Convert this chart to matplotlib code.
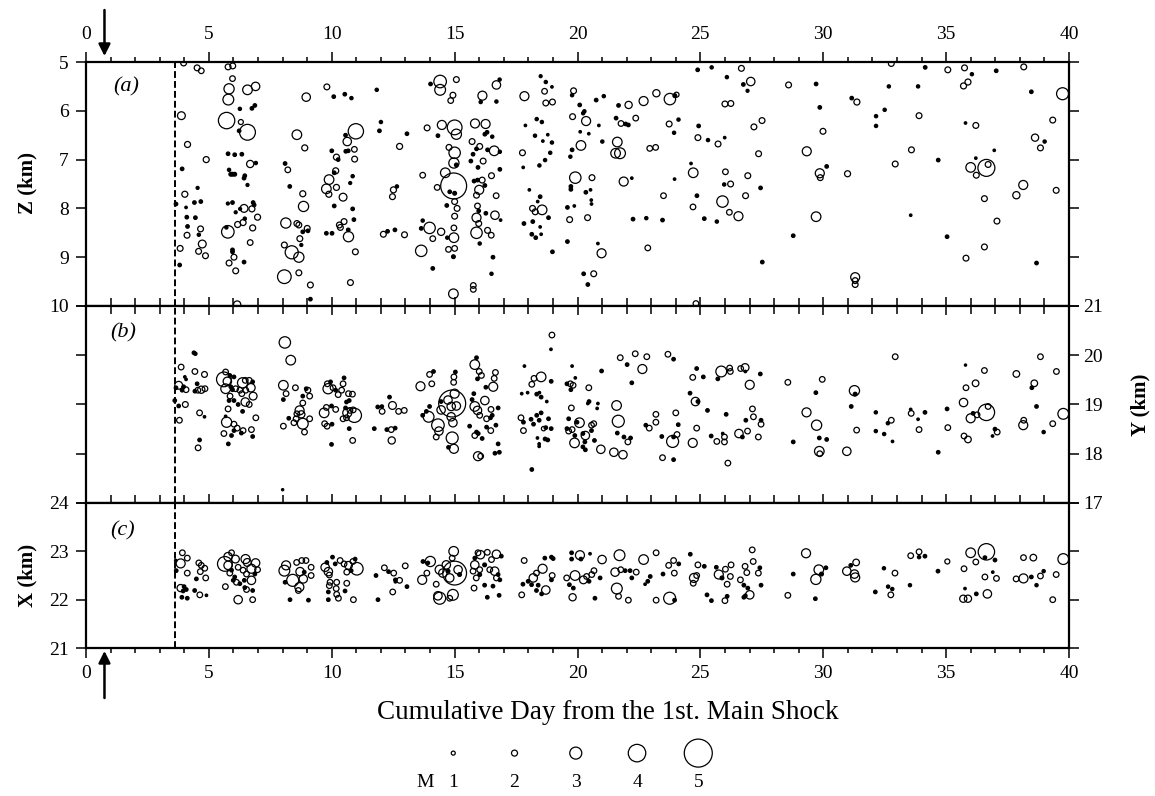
import numpy as np
import matplotlib.pyplot as plt

plt.rcParams['font.family'] = ['Liberation Serif', 'DejaVu Serif']

# 震源データ (日, 座標 km, M) -- パネルごと
# (a) 深さ Z
quakes_z = [
    (3.97, 5.02, 1.9), (4.52, 5.12, 1.9), (4.69, 5.18, 1.8), (5.78, 5.10, 1.9), (5.97, 5.08, 1.9),
    (5.96, 5.34, 1.8), (5.82, 5.55, 2.7), (6.57, 5.57, 2.6), (6.90, 5.50, 2.4), (5.79, 5.77, 2.8),
    (8.96, 5.72, 2.4), (9.80, 5.51, 1.9), (10.08, 5.71, 0.8), (10.53, 5.66, 0.8), (10.80, 5.74, 0.7),
    (11.83, 5.57, 0.7), (3.88, 6.10, 2.3), (5.72, 6.20, 3.8), (6.57, 6.44, 3.7), (6.26, 5.96, 0.7),
    (6.75, 5.95, 0.8), (6.87, 5.89, 0.8), (6.30, 6.23, 1.5), (6.23, 6.41, 0.8), (8.58, 6.49, 2.6),
    (8.90, 6.76, 2.0), (10.98, 6.42, 3.6), (10.56, 6.50, 0.8), (10.63, 6.63, 2.4), (11.94, 6.41, 0.8),
    (12.00, 6.23, 0.7), (13.06, 6.47, 0.8), (12.76, 6.73, 2.0), (4.13, 6.69, 2.0), (4.89, 7.00, 2.0),
    (3.91, 7.19, 0.8), (5.78, 6.88, 0.8), (6.05, 6.90, 0.8), (6.34, 6.89, 0.8), (6.68, 7.09, 2.2),
    (6.91, 7.07, 0.7), (8.10, 7.08, 0.8), (8.21, 7.21, 1.8), (10.00, 6.82, 0.8), (10.19, 6.95, 2.0),
    (10.26, 7.00, 0.8), (10.57, 6.83, 0.8), (10.67, 6.82, 0.8), (10.92, 6.79, 1.8), (10.93, 6.99, 1.9),
    (10.16, 7.23, 2.0), (10.10, 7.27, 0.8), (10.85, 7.34, 0.7), (5.82, 7.21, 0.7), (5.89, 7.30, 0.9),
    (5.96, 7.30, 0.9), (6.05, 7.30, 0.9), (6.46, 7.33, 0.8), (6.43, 7.38, 0.8), (6.57, 7.52, 0.6),
    (9.89, 7.41, 2.6), (9.78, 7.60, 2.6), (9.88, 7.71, 2.0), (10.19, 7.57, 2.0), (10.75, 7.48, 0.6),
    (8.29, 7.55, 0.8), (8.82, 7.70, 2.0), (8.85, 7.96, 2.7), (10.46, 7.77, 2.3), (10.10, 7.95, 0.8),
    (12.51, 7.62, 2.0), (12.65, 7.55, 0.7), (12.47, 7.76, 1.9), (4.02, 7.71, 2.0), (4.54, 7.58, 0.6),
    (3.66, 7.91, 0.8), (4.07, 7.98, 0.4), (4.41, 7.88, 0.8), (4.67, 7.86, 0.8), (5.77, 7.90, 0.6),
    (5.96, 7.88, 0.8), (6.43, 8.00, 2.3), (6.27, 8.01, 0.6), (6.75, 8.01, 2.0), (6.80, 7.88, 0.8),
    (6.84, 7.93, 0.8), (6.09, 8.08, 0.6), (6.46, 8.21, 0.7), (6.17, 8.33, 2.0), (6.39, 8.29, 2.0),
    (6.78, 8.40, 2.0), (6.98, 8.18, 2.0), (4.10, 8.18, 0.8), (4.13, 8.37, 0.8), (4.45, 8.19, 0.8),
    (4.66, 8.42, 1.9), (4.59, 8.54, 0.7), (4.11, 8.55, 1.9), (5.77, 8.48, 3.1), (5.71, 8.39, 0.7),
    (4.73, 8.73, 2.3), (4.86, 8.97, 1.9), (4.58, 8.88, 1.9), (3.83, 8.82, 1.9), (3.81, 9.16, 0.8),
    (5.96, 8.85, 0.8), (5.96, 8.89, 0.8), (6.02, 9.00, 1.9), (5.82, 9.12, 1.9), (6.43, 9.10, 0.8),
    (6.09, 9.28, 1.9), (6.68, 8.70, 1.8), (8.13, 8.30, 2.7), (8.58, 8.31, 1.9), (8.66, 8.34, 1.9),
    (8.82, 8.48, 0.8), (9.00, 8.41, 1.9), (9.03, 8.46, 0.8), (8.70, 8.62, 1.9), (8.76, 8.75, 0.6),
    (8.07, 8.75, 1.9), (8.37, 8.90, 3.2), (8.66, 9.00, 2.7), (8.07, 9.40, 3.3), (8.66, 9.32, 1.9),
    (9.13, 9.57, 1.9), (9.13, 9.86, 0.8), (9.78, 8.51, 0.8), (10.01, 8.51, 0.8), (10.31, 8.34, 1.9),
    (10.35, 8.39, 1.9), (10.50, 8.27, 1.9), (10.67, 8.44, 0.8), (10.68, 8.58, 2.7), (10.90, 8.23, 0.8),
    (10.85, 8.01, 0.8), (10.96, 8.89, 1.9), (10.76, 9.52, 1.9), (12.10, 8.53, 1.9), (12.27, 8.47, 0.8),
    (12.57, 8.44, 0.8), (12.96, 8.54, 1.9), (6.15, 9.97, 2.2),
    (14.41, 5.40, 3.1), (14.41, 5.57, 2.8), (14.02, 5.45, 0.8), (15.07, 5.36, 1.9), (14.93, 5.68, 1.9),
    (14.84, 5.79, 1.8), (16.13, 5.69, 2.5), (16.06, 5.82, 0.7), (16.70, 5.47, 2.4), (16.83, 5.36, 0.7),
    (16.70, 5.81, 0.7), (17.84, 5.70, 2.5), (18.50, 5.29, 0.6), (18.71, 5.41, 0.7), (18.96, 5.51, 0.4),
    (18.66, 5.60, 1.8), (18.71, 5.84, 1.9), (18.98, 5.82, 1.9), (19.84, 5.59, 1.9), (19.78, 5.68, 0.7),
    (20.09, 5.88, 0.8), (20.28, 6.01, 0.7), (20.23, 6.05, 0.7), (20.76, 5.78, 0.8), (21.07, 5.70, 0.7),
    (21.67, 5.89, 0.8), (22.08, 5.88, 2.2), (22.69, 5.80, 2.5), (23.21, 5.64, 2.2), (23.76, 5.76, 2.9),
    (23.96, 5.69, 0.9), (24.03, 5.67, 1.5), (24.89, 5.16, 0.8), (25.46, 5.11, 0.7), (26.08, 5.31, 0.7),
    (26.00, 5.86, 1.9), (26.24, 5.85, 1.9), (13.88, 6.35, 1.9), (14.48, 6.29, 2.5), (15.00, 6.34, 3.5),
    (15.07, 6.48, 2.7), (14.32, 6.51, 0.8), (15.83, 6.26, 2.5), (16.26, 6.27, 2.5), (16.32, 6.44, 0.8),
    (16.23, 6.48, 0.8), (16.53, 6.53, 0.7), (15.71, 6.63, 1.9), (14.77, 6.75, 1.9), (15.00, 6.86, 2.9),
    (14.97, 7.07, 2.7), (15.07, 7.11, 0.9), (16.02, 6.73, 1.9), (15.89, 6.78, 0.8), (16.34, 6.80, 0.8),
    (16.61, 6.82, 2.6), (16.84, 6.84, 0.7), (15.75, 6.89, 0.8), (15.66, 7.03, 0.8), (16.16, 7.03, 1.9),
    (15.95, 7.16, 0.8), (16.84, 7.20, 0.8), (17.76, 6.86, 1.9), (18.27, 6.51, 0.7), (18.59, 6.62, 0.4),
    (18.79, 6.49, 0.4), (18.96, 6.65, 0.7), (18.89, 6.86, 0.7), (18.68, 7.01, 0.7), (18.45, 7.12, 0.7),
    (17.79, 7.16, 0.4), (18.34, 6.17, 0.7), (18.55, 6.23, 0.7), (17.88, 6.30, 0.4), (19.80, 6.12, 1.9),
    (20.35, 6.21, 2.5), (20.11, 6.43, 0.4), (20.46, 6.47, 0.4), (20.14, 6.71, 2.6), (19.78, 6.80, 0.8),
    (19.71, 6.94, 0.7), (20.87, 6.30, 0.4), (21.01, 6.63, 0.7), (21.62, 6.64, 2.6), (21.55, 6.87, 2.6),
    (21.73, 6.87, 2.8), (21.57, 6.15, 0.8), (21.77, 6.26, 1.8), (21.96, 6.27, 0.8), (22.07, 6.29, 0.8),
    (22.37, 6.15, 1.8), (22.94, 6.77, 1.8), (23.18, 6.75, 1.8), (23.73, 6.27, 1.9), (24.11, 6.18, 0.7),
    (23.93, 6.45, 0.7), (24.93, 6.31, 0.8), (24.90, 6.55, 1.9), (25.31, 6.60, 0.7), (25.72, 6.68, 1.9),
    (25.99, 6.55, 0.4), (13.70, 7.32, 1.8), (14.62, 7.27, 2.6), (14.29, 7.57, 1.8), (14.96, 7.54, 4.8),
    (14.80, 7.66, 0.8), (15.00, 7.69, 0.9), (15.00, 7.86, 1.9), (14.68, 7.94, 0.8), (15.10, 8.00, 1.9),
    (15.00, 8.16, 1.9), (15.79, 7.44, 0.8), (15.93, 7.42, 0.8), (16.12, 7.42, 1.9), (16.50, 7.33, 1.9),
    (16.23, 7.53, 0.8), (16.00, 7.62, 2.5), (15.89, 7.73, 1.9), (16.69, 7.74, 1.8), (15.93, 7.95, 1.8),
    (15.98, 8.05, 0.8), (15.89, 8.19, 2.5), (15.98, 8.31, 1.9), (16.27, 8.10, 0.8), (16.64, 8.14, 2.4),
    (16.87, 8.24, 0.4), (15.89, 8.50, 2.9), (16.34, 8.45, 1.9), (16.49, 8.55, 1.8), (16.02, 8.72, 0.7),
    (13.98, 8.40, 2.9), (13.70, 8.25, 0.7), (13.64, 8.41, 0.8), (14.45, 8.48, 2.2), (14.11, 8.62, 1.8),
    (14.70, 8.60, 0.7), (14.97, 8.60, 2.6), (14.97, 8.40, 1.8), (13.64, 8.87, 2.9), (14.75, 8.84, 1.8),
    (15.00, 8.82, 1.8), (14.95, 8.99, 0.9), (14.11, 9.23, 0.8), (16.56, 9.00, 0.8), (16.50, 9.34, 0.7),
    (15.76, 9.58, 1.8), (15.76, 9.66, 1.8), (14.95, 9.75, 2.6), (18.04, 7.62, 0.4), (18.48, 7.76, 0.8),
    (18.17, 8.00, 1.9), (18.28, 8.07, 1.9), (18.56, 8.03, 2.6), (18.38, 7.86, 0.4), (18.82, 8.19, 0.8),
    (17.82, 8.31, 0.8), (18.18, 8.27, 0.8), (18.48, 8.38, 0.4), (18.14, 8.53, 0.8), (18.30, 8.60, 0.8),
    (18.52, 8.53, 0.4), (18.98, 8.89, 0.8), (19.91, 7.37, 2.9), (19.73, 7.55, 0.8), (19.73, 7.61, 0.8),
    (20.34, 7.67, 0.8), (20.53, 7.62, 0.4), (20.56, 7.83, 0.4), (20.57, 7.91, 0.4), (19.59, 7.98, 0.8),
    (19.87, 7.95, 0.4), (19.68, 8.23, 1.9), (20.41, 8.19, 1.9), (19.59, 8.68, 0.8), (20.83, 8.72, 0.4),
    (20.98, 8.92, 2.5), (20.25, 9.34, 0.8), (20.66, 9.34, 1.9), (20.42, 9.56, 0.8), (20.59, 7.37, 1.9),
    (21.88, 7.45, 2.5), (22.21, 7.38, 0.4), (22.26, 8.22, 0.8), (22.80, 8.20, 0.7), (23.46, 8.24, 0.8),
    (22.86, 8.81, 1.8), (23.50, 7.74, 1.8), (23.95, 7.40, 0.4), (24.62, 7.08, 0.4), (24.71, 7.27, 2.6),
    (24.86, 7.74, 0.8), (24.70, 7.97, 1.8), (26.02, 7.25, 1.8), (25.97, 7.51, 0.7), (26.23, 7.50, 1.9),
    (25.90, 7.86, 2.9), (26.18, 8.08, 1.8), (25.16, 8.21, 0.8), (25.67, 8.27, 0.7), (24.82, 9.95, 1.8),
    (26.67, 5.13, 1.9), (26.75, 5.46, 0.8), (27.05, 5.40, 2.4), (26.92, 5.59, 0.6), (28.59, 5.47, 1.9),
    (29.71, 5.45, 0.8), (31.16, 5.74, 0.8), (31.37, 5.82, 2.0), (29.86, 5.93, 0.8), (32.77, 5.03, 1.9),
    (34.15, 5.11, 0.8), (35.07, 5.16, 1.9), (35.75, 5.12, 1.9), (36.05, 5.25, 0.7), (37.04, 5.18, 0.8),
    (38.16, 5.10, 1.9), (32.67, 5.50, 0.7), (33.86, 5.50, 0.7), (35.71, 5.49, 2.0), (35.89, 5.41, 2.0),
    (38.47, 5.61, 0.8), (39.74, 5.65, 3.0), (32.50, 5.98, 0.7), (32.15, 6.11, 0.7), (32.15, 6.31, 0.7),
    (33.90, 6.10, 1.9), (27.51, 6.20, 1.9), (27.18, 6.33, 1.9), (29.99, 6.42, 1.9), (36.21, 6.30, 1.9),
    (35.79, 6.25, 0.4), (39.34, 6.19, 1.9), (38.62, 6.55, 2.2), (39.01, 6.63, 0.7), (38.84, 6.76, 1.9),
    (27.37, 6.88, 1.9), (29.33, 6.83, 2.5), (30.14, 7.14, 0.8), (33.59, 6.80, 1.9), (34.68, 7.01, 0.8),
    (32.93, 7.09, 1.9), (26.93, 7.33, 1.9), (29.86, 7.28, 2.5), (29.88, 7.37, 1.9), (30.99, 7.29, 2.0),
    (36.00, 7.16, 2.6), (36.23, 7.32, 1.9), (36.21, 6.97, 0.4), (36.64, 7.17, 3.9), (36.71, 7.10, 1.9),
    (36.96, 6.81, 0.4), (27.45, 7.58, 0.8), (26.84, 7.74, 1.9), (38.14, 7.52, 2.5), (37.86, 7.73, 2.2),
    (39.48, 7.63, 1.9), (36.56, 7.80, 1.9), (26.55, 8.16, 2.5), (29.71, 8.17, 2.6), (33.56, 8.14, 0.4),
    (37.07, 8.26, 1.9), (28.78, 8.56, 0.8), (35.04, 8.58, 0.8), (36.56, 8.79, 1.9), (27.52, 9.10, 0.8),
    (35.81, 9.02, 1.9), (38.68, 9.12, 0.8), (31.30, 9.41, 2.5), (31.30, 9.48, 1.9), (31.30, 9.56, 1.9),
]

# (b) Y 座標
quakes_y = [
    (8.09, 20.26, 2.9), (8.33, 19.90, 2.6), (4.39, 20.05, 0.8), (4.45, 20.03, 0.7), (3.87, 19.76, 1.8),
    (4.43, 19.67, 1.8), (4.82, 19.61, 1.9), (4.02, 19.56, 0.4), (4.07, 19.51, 0.4), (3.77, 19.39, 2.3),
    (3.66, 19.34, 0.8), (3.97, 19.36, 0.8), (4.07, 19.30, 1.8), (3.91, 19.29, 0.8), (4.52, 19.42, 0.8),
    (4.55, 19.29, 1.8), (4.69, 19.30, 2.2), (4.84, 19.32, 1.8), (4.43, 19.27, 0.8), (3.61, 19.08, 0.8),
    (3.77, 18.97, 0.8), (4.04, 19.00, 1.9), (3.80, 18.68, 1.8), (4.62, 18.83, 1.8), (4.82, 18.75, 0.4),
    (4.62, 18.28, 0.8), (4.56, 18.12, 1.8), (5.68, 19.66, 1.8), (5.61, 19.51, 3.5), (5.75, 19.47, 2.4),
    (5.85, 19.59, 0.8), (6.02, 19.56, 0.8), (5.68, 19.32, 2.6), (5.89, 19.36, 0.8), (5.96, 19.30, 0.8),
    (6.09, 19.32, 1.8), (6.37, 19.44, 2.7), (6.48, 19.49, 1.8), (6.64, 19.49, 1.8), (6.78, 19.46, 0.8),
    (6.71, 19.34, 2.4), (6.50, 19.29, 1.8), (6.26, 19.29, 1.8), (6.34, 19.22, 1.8), (5.86, 19.17, 1.8),
    (5.82, 19.08, 0.8), (6.02, 19.08, 0.8), (6.19, 19.00, 0.8), (5.78, 18.91, 1.8), (6.48, 19.05, 2.4),
    (6.64, 19.00, 1.8), (6.80, 19.17, 2.3), (6.37, 18.86, 0.8), (6.91, 18.73, 1.8), (5.72, 18.64, 2.7),
    (5.68, 18.76, 0.4), (6.02, 18.60, 1.8), (6.15, 18.52, 1.8), (6.39, 18.47, 1.8), (6.02, 18.47, 0.8),
    (6.32, 18.42, 0.8), (6.73, 18.49, 1.8), (6.78, 18.35, 0.8), (5.61, 18.41, 1.8), (5.92, 18.37, 0.8),
    (5.79, 18.20, 0.8), (8.03, 19.39, 2.6), (8.14, 19.22, 1.8), (8.52, 19.34, 1.8), (8.96, 19.32, 0.8),
    (9.03, 19.29, 1.8), (9.10, 19.17, 1.8), (8.82, 19.17, 0.8), (8.03, 19.10, 0.8), (8.82, 19.03, 1.8),
    (8.69, 18.88, 2.5), (8.58, 18.81, 1.8), (8.76, 18.80, 2.2), (8.55, 18.71, 1.8), (8.25, 18.72, 0.8),
    (9.10, 18.71, 1.8), (8.46, 18.63, 1.8), (8.82, 18.61, 2.8), (8.89, 18.44, 1.8), (8.03, 18.56, 1.8),
    (9.82, 19.42, 1.8), (9.95, 19.46, 0.8), (9.85, 19.32, 2.7), (10.05, 19.34, 1.8), (10.16, 19.29, 0.8),
    (10.26, 19.20, 1.8), (10.46, 19.42, 1.8), (10.50, 19.54, 0.8), (10.40, 19.29, 1.8), (10.68, 19.22, 1.8),
    (10.84, 19.21, 1.8), (10.71, 19.08, 0.8), (10.60, 19.05, 0.8), (9.78, 18.94, 1.8), (9.69, 18.83, 2.6),
    (9.99, 18.97, 0.8), (10.16, 18.90, 1.8), (10.56, 18.93, 0.8), (10.63, 18.83, 2.5), (10.92, 18.78, 3.4),
    (10.74, 18.88, 1.8), (10.87, 18.89, 1.8), (10.60, 18.73, 1.8), (10.46, 18.71, 1.8), (9.71, 18.61, 1.8),
    (9.81, 18.56, 1.8), (10.01, 18.60, 0.8), (10.71, 18.51, 0.8), (9.99, 18.19, 0.8), (10.85, 18.27, 1.8),
    (11.87, 18.95, 0.8), (12.05, 18.86, 1.8), (12.47, 18.98, 2.3), (12.04, 18.96, 0.7), (12.72, 18.86, 1.8),
    (12.95, 18.88, 1.8), (12.35, 19.15, 0.8), (11.73, 18.51, 0.8), (12.24, 18.49, 0.8), (12.42, 18.49, 1.8),
    (12.58, 18.52, 0.8), (12.44, 18.27, 2.2), (8.00, 17.27, 0.3),
    (13.61, 19.37, 2.5), (14.07, 19.42, 1.8), (13.98, 19.61, 1.8), (14.14, 19.67, 0.8), (14.97, 19.56, 1.8),
    (14.96, 19.45, 1.8), (15.03, 19.66, 0.8), (15.00, 19.22, 2.5), (14.90, 19.02, 4.9), (14.73, 19.09, 2.4),
    (14.86, 18.96, 2.4), (15.07, 18.97, 2.4), (14.45, 18.89, 2.4), (13.94, 18.75, 2.8), (13.70, 18.78, 0.8),
    (14.32, 18.58, 3.1), (14.36, 18.46, 2.4), (14.25, 18.34, 1.8), (14.86, 18.75, 2.4), (14.93, 18.63, 2.4),
    (14.90, 18.32, 3.0), (14.97, 18.10, 2.5), (14.75, 18.13, 0.8), (13.98, 18.96, 0.8), (13.85, 18.86, 0.8),
    (14.45, 19.06, 0.8), (15.82, 19.81, 2.6), (15.89, 19.95, 0.8), (16.00, 19.67, 1.8), (16.09, 19.59, 1.8),
    (15.93, 19.52, 0.8), (16.66, 19.65, 1.8), (16.61, 19.53, 1.8), (16.57, 19.36, 2.5), (16.27, 19.35, 0.8),
    (15.78, 19.22, 0.8), (15.71, 19.10, 0.8), (15.82, 18.96, 2.6), (15.93, 18.88, 2.4), (16.02, 18.78, 1.8),
    (16.23, 19.08, 2.4), (16.30, 18.71, 1.8), (16.48, 18.90, 1.8), (16.46, 18.73, 0.8), (16.77, 18.93, 0.8),
    (16.53, 18.78, 0.8), (15.61, 18.56, 0.8), (15.89, 18.44, 0.8), (15.82, 18.37, 1.8), (15.96, 18.41, 0.8),
    (16.12, 18.31, 0.8), (16.47, 18.47, 1.8), (16.68, 18.58, 0.8), (16.77, 18.20, 0.8), (16.30, 18.54, 0.8),
    (15.95, 17.95, 2.5), (16.06, 17.95, 1.8), (16.64, 18.01, 0.8), (16.82, 18.03, 0.8), (17.84, 19.78, 0.4),
    (18.52, 19.56, 2.6), (18.23, 19.53, 1.8), (18.14, 19.41, 1.8), (18.93, 19.47, 0.8), (17.73, 19.22, 0.4),
    (17.97, 19.24, 0.4), (18.34, 19.21, 0.8), (18.52, 19.15, 0.8), (18.75, 19.06, 0.4), (18.45, 19.24, 0.4),
    (17.70, 18.73, 1.8), (17.80, 18.64, 0.8), (17.80, 18.47, 1.8), (18.11, 18.70, 0.8), (18.21, 18.60, 0.8),
    (18.44, 18.68, 0.8), (18.52, 18.83, 0.8), (18.34, 18.78, 0.8), (18.82, 18.71, 0.8), (18.62, 18.51, 1.2),
    (18.71, 18.53, 0.8), (18.93, 18.51, 0.8), (18.37, 18.32, 0.4), (18.44, 18.20, 0.4), (18.44, 18.15, 0.4),
    (18.68, 18.30, 0.8), (18.79, 18.28, 0.8), (18.14, 17.68, 0.8), (18.96, 20.41, 1.8), (18.92, 20.12, 0.4),
    (19.78, 19.78, 0.4), (19.57, 19.42, 0.8), (19.71, 19.42, 1.8), (19.82, 19.39, 1.8), (19.73, 19.30, 0.8),
    (19.91, 19.54, 0.4), (20.46, 19.34, 1.8), (20.98, 19.68, 0.8), (20.47, 19.06, 0.8), (20.42, 19.02, 0.4),
    (20.83, 19.02, 0.4), (20.80, 18.92, 0.4), (19.75, 18.93, 1.8), (20.08, 18.63, 2.6), (19.98, 18.64, 0.8),
    (19.64, 18.71, 0.8), (19.57, 18.51, 0.8), (19.64, 18.46, 1.8), (19.78, 18.49, 1.8), (19.89, 18.37, 0.8),
    (20.22, 18.41, 0.8), (20.57, 18.58, 1.8), (20.66, 18.61, 1.8), (20.32, 18.37, 2.4), (20.57, 18.47, 0.8),
    (20.30, 18.24, 0.8), (20.69, 18.27, 0.8), (20.22, 18.14, 0.8), (19.88, 18.22, 2.6), (20.32, 18.08, 0.8),
    (20.95, 18.09, 2.4), (21.48, 18.03, 2.4), (21.85, 17.98, 2.4), (21.59, 18.98, 2.6), (21.66, 18.66, 3.0),
    (21.62, 18.42, 0.8), (21.89, 18.34, 0.8), (22.05, 18.24, 1.8), (22.16, 18.32, 0.8), (21.74, 19.95, 1.8),
    (22.02, 19.81, 0.8), (22.35, 20.03, 1.8), (22.82, 19.97, 1.8), (22.64, 19.72, 2.5), (22.21, 19.44, 0.8),
    (23.68, 20.02, 1.8), (23.91, 19.92, 0.8), (23.19, 18.80, 1.8), (23.19, 18.64, 1.8), (22.78, 18.58, 0.8),
    (22.92, 18.52, 1.8), (24.00, 18.83, 1.8), (24.10, 18.59, 0.8), (23.43, 18.35, 0.8), (23.87, 18.25, 3.0),
    (24.05, 18.39, 1.8), (23.91, 18.34, 0.8), (23.46, 17.92, 1.8), (23.91, 17.88, 0.8), (24.69, 18.22, 2.5),
    (24.85, 18.52, 1.8), (24.80, 19.06, 2.4), (24.90, 19.06, 0.8), (24.58, 19.23, 0.8), (25.29, 18.88, 0.8),
    (26.05, 18.80, 0.8), (24.69, 19.55, 1.8), (24.85, 19.73, 0.8), (25.12, 19.56, 0.8), (25.85, 19.67, 2.8),
    (25.71, 19.52, 0.8), (26.22, 19.67, 1.8), (26.19, 19.74, 1.8), (25.44, 18.36, 0.8), (25.67, 18.25, 1.8),
    (25.98, 18.34, 1.8), (25.98, 18.24, 1.8), (25.91, 18.41, 0.4), (26.57, 18.41, 2.4), (26.12, 17.81, 1.8),
    (26.64, 19.73, 1.8), (26.82, 19.75, 2.3), (26.83, 19.67, 0.4), (27.44, 19.62, 0.8), (27.01, 19.40, 2.5),
    (28.56, 19.45, 1.8), (29.96, 19.51, 1.8), (29.70, 19.24, 0.8), (27.12, 18.91, 1.8), (27.16, 18.75, 1.8),
    (26.85, 18.68, 0.8), (27.47, 18.68, 0.8), (27.47, 18.60, 1.8), (26.92, 18.46, 1.8), (26.71, 18.34, 0.8),
    (27.36, 18.34, 1.8), (28.78, 18.24, 0.8), (29.32, 18.84, 2.5), (29.73, 18.58, 2.7), (29.84, 18.32, 0.8),
    (30.14, 18.29, 0.8), (29.84, 18.05, 2.6), (29.86, 18.00, 1.8), (30.96, 18.05, 2.4), (31.27, 19.28, 2.7),
    (31.30, 19.21, 0.9), (31.14, 18.96, 0.8), (31.36, 18.48, 1.8), (32.14, 18.84, 0.7), (32.14, 18.46, 0.7),
    (32.48, 18.40, 0.7), (32.77, 18.68, 1.8), (32.63, 18.62, 0.7), (32.82, 18.25, 0.4), (32.93, 19.97, 1.8),
    (33.56, 18.90, 0.4), (33.58, 18.82, 1.8), (33.86, 18.70, 0.4), (34.14, 18.84, 0.8), (33.90, 18.49, 1.8),
    (34.68, 18.03, 0.8), (35.04, 18.91, 0.8), (35.07, 18.53, 1.8), (35.71, 19.04, 2.4), (35.81, 19.34, 1.8),
    (36.20, 19.43, 2.1), (35.79, 19.80, 0.3), (36.56, 19.69, 1.8), (36.00, 18.72, 2.5), (36.10, 18.82, 0.8),
    (36.26, 18.79, 1.8), (36.64, 18.84, 3.8), (36.71, 18.96, 1.8), (35.73, 18.36, 1.8), (35.89, 18.29, 2.1),
    (36.99, 18.50, 0.8), (37.08, 18.44, 1.8), (36.89, 18.36, 0.4), (37.86, 19.62, 2.1), (38.59, 19.43, 2.1),
    (38.49, 19.34, 0.8), (38.68, 18.96, 0.8), (38.16, 18.68, 1.8), (38.14, 18.58, 2.5), (38.97, 18.44, 0.7),
    (39.34, 18.61, 1.8), (38.84, 19.97, 1.8), (39.49, 19.67, 1.8), (39.77, 18.81, 2.8),
]

# (c) X 座標
quakes_x = [
    (3.92, 22.97, 1.8), (4.12, 22.86, 1.8), (3.85, 22.75, 2.5), (3.67, 22.60, 0.8), (4.12, 22.55, 1.8),
    (3.65, 22.81, 0.4), (4.59, 22.76, 1.8), (4.69, 22.71, 1.8), (4.83, 22.65, 1.8), (4.65, 22.58, 1.8),
    (4.87, 22.45, 1.8), (4.49, 22.43, 0.8), (3.85, 22.24, 2.2), (3.99, 22.27, 0.8), (4.08, 22.21, 0.8),
    (3.95, 22.18, 0.8), (3.90, 22.05, 0.8), (4.12, 22.03, 0.8), (4.42, 22.19, 0.8), (4.63, 22.10, 1.8),
    (4.90, 22.09, 0.4), (5.65, 22.74, 3.5), (5.78, 22.71, 2.4), (5.92, 22.97, 1.8), (5.78, 22.89, 2.4),
    (6.08, 22.84, 2.3), (5.92, 22.61, 0.8), (6.19, 22.67, 1.8), (5.85, 22.55, 1.8), (6.05, 22.47, 0.8),
    (6.12, 22.36, 1.8), (6.26, 22.33, 0.8), (5.99, 22.40, 0.8), (6.49, 22.84, 2.5), (6.56, 22.77, 2.3),
    (6.90, 22.76, 2.4), (6.73, 22.64, 2.5), (6.39, 22.61, 1.8), (6.53, 22.53, 1.8), (6.87, 22.53, 0.8),
    (6.98, 22.62, 1.8), (6.44, 22.40, 0.8), (6.73, 22.40, 2.4), (6.46, 22.25, 0.8), (6.53, 22.21, 1.8),
    (6.78, 22.19, 0.8), (5.67, 22.27, 1.8), (6.19, 22.00, 2.4), (6.78, 22.00, 1.8), (8.14, 22.71, 2.5),
    (8.07, 22.60, 2.8), (8.41, 22.40, 3.0), (8.10, 22.36, 0.8), (8.57, 22.77, 1.8), (8.78, 22.81, 1.8),
    (8.95, 22.81, 1.8), (8.71, 22.58, 2.4), (8.88, 22.57, 0.8), (9.16, 22.67, 1.8), (8.84, 22.43, 2.4),
    (8.68, 22.26, 2.5), (8.64, 22.19, 1.8), (9.16, 22.50, 1.8), (8.30, 22.00, 0.8), (9.05, 21.99, 0.8),
    (9.73, 22.67, 2.4), (9.86, 22.58, 2.4), (9.90, 22.51, 1.8), (9.93, 22.36, 1.8), (10.03, 22.88, 0.8),
    (9.80, 22.77, 0.8), (10.14, 22.74, 0.8), (10.34, 22.81, 1.8), (10.50, 22.74, 1.8), (10.68, 22.71, 2.3),
    (10.86, 22.79, 1.8), (10.95, 22.84, 0.8), (11.02, 22.64, 3.1), (10.79, 22.60, 0.8), (10.61, 22.57, 1.8),
    (10.20, 22.36, 1.8), (9.90, 22.29, 1.8), (10.18, 22.23, 1.8), (9.86, 22.16, 0.8), (10.20, 22.11, 1.8),
    (10.27, 22.03, 1.8), (10.61, 22.34, 1.8), (10.54, 22.18, 0.8), (9.86, 22.00, 0.8), (10.88, 22.00, 1.8),
    (11.80, 22.50, 0.8), (12.14, 22.66, 1.8), (12.31, 22.58, 0.8), (12.52, 22.55, 1.8), (12.99, 22.70, 1.8),
    (11.88, 22.00, 0.8), (12.76, 22.40, 1.8), (12.59, 22.41, 0.8), (12.48, 22.16, 1.8), (12.59, 22.37, 0.4),
    (13.06, 22.27, 0.8),
    (13.68, 22.41, 2.5), (13.87, 22.55, 1.8), (14.01, 22.79, 2.7), (13.91, 22.76, 0.8), (13.71, 22.79, 0.8),
    (14.39, 22.62, 2.5), (14.52, 22.55, 2.4), (14.25, 22.32, 1.8), (15.00, 22.55, 4.6), (14.96, 23.00, 2.6),
    (14.90, 22.86, 1.8), (14.66, 22.72, 2.4), (14.80, 22.45, 2.4), (15.14, 22.62, 2.4), (15.20, 22.52, 0.9),
    (14.73, 22.59, 0.9), (14.39, 22.03, 3.0), (14.32, 22.08, 2.4), (14.93, 22.10, 2.8), (14.80, 22.03, 1.8),
    (15.95, 22.97, 1.8), (16.05, 22.93, 2.4), (16.33, 22.98, 1.8), (16.50, 22.83, 1.8), (16.70, 22.94, 2.4),
    (16.90, 22.90, 0.8), (15.82, 22.86, 0.8), (15.82, 22.72, 2.4), (15.75, 22.59, 1.8), (16.02, 22.62, 1.8),
    (16.22, 22.72, 0.9), (16.43, 22.62, 1.8), (16.63, 22.59, 2.4), (16.70, 22.45, 1.8), (15.88, 22.45, 1.8),
    (16.02, 22.52, 0.9), (16.77, 22.52, 0.8), (16.84, 22.41, 0.8), (15.79, 22.24, 1.8), (16.22, 22.30, 0.8),
    (16.56, 22.28, 0.8), (16.81, 22.09, 0.8), (16.33, 22.05, 0.8), (17.83, 22.81, 1.8), (18.67, 22.86, 0.8),
    (18.94, 22.88, 0.8), (19.01, 22.85, 0.8), (18.33, 22.55, 1.8), (18.58, 22.64, 2.5), (18.20, 22.45, 2.4),
    (17.99, 22.38, 0.8), (17.78, 22.32, 0.8), (18.97, 22.50, 1.8), (18.94, 22.41, 0.8), (18.13, 22.31, 0.8),
    (18.40, 22.30, 0.8), (18.71, 22.20, 2.4), (18.54, 22.12, 0.8), (18.33, 22.19, 0.8), (17.73, 22.10, 1.8),
    (20.10, 22.92, 2.5), (20.14, 22.84, 0.8), (19.76, 22.97, 0.8), (19.76, 22.84, 0.8), (20.51, 22.95, 0.4),
    (19.90, 22.50, 2.6), (19.56, 22.45, 1.8), (19.67, 22.31, 0.8), (19.83, 22.24, 0.8), (20.24, 22.41, 2.3),
    (20.37, 22.48, 1.8), (20.58, 22.52, 1.8), (20.67, 22.60, 1.8), (20.92, 22.45, 0.8), (20.47, 22.38, 0.8),
    (21.00, 22.83, 2.4), (19.80, 22.05, 2.2), (20.71, 22.03, 0.8), (21.71, 22.92, 2.8), (21.53, 22.57, 2.4),
    (21.76, 22.62, 1.8), (21.94, 22.60, 0.8), (22.14, 22.60, 0.8), (22.39, 22.57, 1.8), (22.21, 22.45, 0.8),
    (21.60, 22.23, 2.8), (21.67, 22.07, 1.8), (22.07, 21.99, 1.8), (22.69, 22.83, 2.6), (23.20, 22.97, 1.8),
    (22.96, 22.48, 0.8), (22.86, 22.38, 0.8), (22.75, 22.32, 0.4), (23.48, 22.53, 0.8), (23.20, 21.99, 1.8),
    (23.75, 22.03, 3.0), (23.95, 21.99, 0.8), (23.71, 22.71, 1.8), (23.91, 22.81, 1.8), (23.94, 22.55, 1.8),
    (24.12, 22.74, 0.8), (24.59, 22.94, 0.8), (24.90, 22.72, 1.8), (24.74, 22.45, 2.5), (24.85, 22.50, 1.8),
    (24.71, 22.34, 1.8), (25.16, 22.69, 0.8), (25.27, 22.10, 0.8), (25.45, 21.98, 0.8), (25.75, 22.52, 2.5),
    (25.65, 22.67, 0.8), (26.02, 22.63, 1.8), (26.25, 22.72, 1.8), (26.22, 22.48, 1.8), (26.09, 22.32, 1.8),
    (25.88, 22.45, 0.9), (26.00, 21.98, 1.8), (26.09, 22.07, 0.8), (26.63, 22.41, 1.8), (26.77, 22.30, 0.8),
    (26.93, 22.24, 0.8), (26.77, 22.05, 0.8),
    (27.01, 22.10, 2.4), (26.83, 22.08, 0.8), (27.11, 23.03, 1.8), (27.15, 22.79, 1.8), (26.82, 22.69, 1.8),
    (26.89, 22.56, 1.8), (27.36, 22.55, 1.8), (27.42, 22.66, 0.8), (27.47, 22.30, 0.8), (28.56, 22.09, 1.8),
    (29.30, 22.96, 2.5), (28.78, 22.53, 0.8), (29.82, 22.62, 2.6), (29.93, 22.53, 0.9), (30.11, 22.66, 0.8),
    (29.70, 22.42, 2.7), (29.68, 22.02, 0.8), (30.96, 22.59, 2.4), (31.12, 22.71, 0.8), (31.34, 22.77, 2.1),
    (31.27, 22.53, 2.4), (31.30, 22.46, 2.5), (32.12, 22.16, 0.8), (32.47, 22.65, 0.7), (32.92, 22.55, 1.8),
    (32.64, 22.27, 0.7), (32.81, 22.22, 0.7), (32.75, 22.10, 1.8), (33.56, 22.91, 1.8), (33.90, 22.99, 1.8),
    (33.90, 22.88, 0.7), (34.14, 22.90, 0.8), (33.53, 22.30, 0.7), (34.67, 22.59, 0.8), (35.05, 22.79, 1.5),
    (36.00, 22.97, 2.6), (36.21, 22.78, 1.8), (35.73, 22.64, 1.8), (36.64, 22.99, 3.8), (36.58, 22.87, 0.8),
    (36.99, 22.82, 0.8), (36.58, 22.47, 1.8), (36.90, 22.57, 0.4), (37.05, 22.44, 1.8), (35.77, 22.23, 0.4),
    (35.70, 22.02, 2.2), (35.89, 22.02, 2.2), (36.23, 22.12, 0.8), (36.68, 22.12, 2.4), (37.85, 22.43, 1.8),
    (38.15, 22.44, 2.5), (38.47, 22.47, 0.8), (38.84, 22.49, 1.8), (38.97, 22.59, 0.7), (38.68, 22.30, 0.7),
    (38.15, 22.87, 1.8), (38.55, 22.87, 2.1), (39.48, 22.52, 1.8), (39.34, 22.00, 1.8), (39.77, 22.84, 2.8),
]

day_major = np.arange(0, 41, 5)
day_minor = np.arange(0, 41, 1)
z_ticks = [5, 6, 7, 8, 9, 10]
y_ticks = [17, 18, 19, 20, 21]
x_ticks = [21, 22, 23, 24]
legend_mag = [1, 2, 3, 4, 5]
gap_day = 3.6      # 破線の位置
shock_day = 0.75   # 1st main shock (矢印)

# M -> 円の直径(px)
mag_ref = [0, 1, 2, 3, 4, 5]
diam_ref = [1.5, 4, 6, 12, 17.5, 28]


def size_of(m):
    d_px = np.interp(m, mag_ref, diam_ref)
    return (d_px * 0.72) ** 2


def draw(ax, rows):
    t, v, m = np.array(rows).T
    face = ['k' if mm < 1 else 'none' for mm in m]
    ax.scatter(t, v, s=size_of(m), facecolors=face, edgecolors='k', linewidths=0.9, zorder=3)
    ax.axvline(gap_day, color='k', lw=1.4, ls=(0, (3.5, 1.6)), zorder=2)


fig = plt.figure(figsize=(11.55, 7.96), dpi=100)
L, W = 0.0745, 0.851
ax_a = fig.add_axes([L, 0.6156, W, 0.3065])
ax_b = fig.add_axes([L, 0.3681, W, 0.2475])
ax_c = fig.add_axes([L, 0.1859, W, 0.1822])

for ax in (ax_a, ax_b, ax_c):
    ax.set_xlim(0, 40)
    ax.set_xticks(day_major)
    ax.set_xticks(day_minor, minor=True)
    for sp in ax.spines.values():
        sp.set_linewidth(1.6)
    ax.tick_params(which='both', width=1.1, labelsize=14)
    ax.tick_params(axis='y', which='major', direction='out', length=7.5, left=True, right=True)

draw(ax_a, quakes_z)
draw(ax_b, quakes_y)
draw(ax_c, quakes_x)

# (a) 深さ
ax_a.set_ylim(10, 5)
ax_a.set_yticks(z_ticks)
ax_a.tick_params(axis='y', labelleft=True, labelright=False, pad=5)
ax_a.tick_params(axis='x', which='both', direction='out', top=True, bottom=False,
                 labeltop=True, labelbottom=False, pad=6)
ax_a.tick_params(axis='x', which='major', length=7.5)
ax_a.tick_params(axis='x', which='minor', length=3.8)

# (b) Y
ax_b.set_ylim(17, 21)
ax_b.set_yticks(y_ticks)
ax_b.tick_params(axis='y', labelleft=False, labelright=True, pad=3)
ax_b.tick_params(axis='x', which='both', direction='inout', top=True, bottom=True,
                 labelbottom=False, labeltop=False)
ax_b.tick_params(axis='x', which='major', length=12.5)
ax_b.tick_params(axis='x', which='minor', length=11)

# (c) X
ax_c.set_ylim(21, 24)
ax_c.set_yticks(x_ticks)
ax_c.tick_params(axis='y', labelleft=True, labelright=False, pad=5)
ax_c.tick_params(axis='x', which='both', direction='out', top=False, bottom=True,
                 labelbottom=True, pad=5)
ax_c.tick_params(axis='x', which='major', length=7.5)
ax_c.tick_params(axis='x', which='minor', length=3.8)

for ax, lab, pos in ((ax_a, '(a)', (0.041, 0.898)), (ax_b, '(b)', (0.038, 0.863)),
                     (ax_c, '(c)', (0.037, 0.807))):
    ax.text(*pos, lab, transform=ax.transAxes, fontsize=16, style='italic',
            ha='center', va='center')

fig.text(0.024, 0.770, 'Z (km)', rotation=90, fontsize=15, fontweight='bold', ha='center', va='center')
fig.text(0.024, 0.2776, 'X (km)', rotation=90, fontsize=15, fontweight='bold', ha='center', va='center')
fig.text(0.987, 0.491, 'Y (km)', rotation=90, fontsize=15, fontweight='bold', ha='center', va='center')
fig.text(0.526, 0.1055, 'Cumulative Day from the 1st. Main Shock', fontsize=19.5,
         ha='center', va='center')

# 本震の矢印
arrow = dict(arrowstyle='-|>,head_length=0.7,head_width=0.35', lw=1.8, color='k',
             shrinkA=0, shrinkB=0)
ax_a.annotate('', xy=(shock_day, 0.9296), xytext=(shock_day, 0.9874),
              xycoords=('data', 'figure fraction'), textcoords=('data', 'figure fraction'),
              arrowprops=arrow, annotation_clip=False)
ax_c.annotate('', xy=(shock_day, 0.1822), xytext=(shock_day, 0.1231),
              xycoords=('data', 'figure fraction'), textcoords=('data', 'figure fraction'),
              arrowprops=arrow, annotation_clip=False)

# マグニチュードの凡例
ax_leg = fig.add_axes([0.3394, 0.0, 0.3182, 0.0829])
ax_leg.set_xlim(0, 6)
ax_leg.set_ylim(0, 1)
ax_leg.axis('off')
ax_leg.scatter(legend_mag, [0.65] * len(legend_mag), s=size_of(np.array(legend_mag)),
               facecolors='none', edgecolors='k', linewidths=0.9)
for m in legend_mag:
    ax_leg.text(m, 0.2, str(m), fontsize=14, ha='center', va='center')
ax_leg.text(0.54, 0.2, 'M', fontsize=14, ha='center', va='center')

fig.savefig('out.png', dpi=100)
